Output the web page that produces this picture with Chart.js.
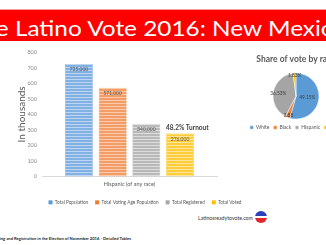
<!DOCTYPE html>
<html>
<head>
<meta charset="utf-8">
<script src="https://cdn.jsdelivr.net/npm/chart.js@4.4.0/dist/chart.umd.min.js"></script>
<style>
  html, body { margin: 0; padding: 0; background: #fff; }
  body { width: 326px; height: 245px; position: relative; overflow: hidden; font-family: Lato, "Open Sans", sans-serif; }
  #banner { position: absolute; left: 0; top: 9px; width: 326px; height: 32px; background: #ff0000; border-top: 1px solid #ff9a9a; box-sizing: border-box; overflow: hidden; }
  #ttl { position: absolute; left: 0; top: 7px; color: #fff; font-size: 21px; line-height: 21px; white-space: nowrap; transform-origin: 0 0; }
  #barBox { position: absolute; left: 0; top: 44px; width: 290px; height: 163px; }
  #pieBox { position: absolute; left: 240px; top: 52px; width: 112px; height: 88px; }
  #site { position: absolute; left: 198px; top: 215px; font-size: 5.2px; color: #333; }
  #logo { position: absolute; left: 255px; top: 211px; width: 12px; height: 12px; border-radius: 50%;
          background: linear-gradient(#2b3fbf 0 45%, #fff 45% 55%, #e3262b 55% 100%); }
  #source { position: absolute; right: 195px; top: 236px; font-size: 4.15px; font-weight: bold; color: #222; white-space: nowrap; }
</style>
</head>
<body>
<div id="banner"><span id="ttl">The <span id="tA">Latino Vote 2016: New </span><span id="tB">Mexico</span></span></div>
<div id="barBox"><canvas id="bar"></canvas></div>
<div id="pieBox"><canvas id="pie"></canvas></div>
<div id="site">Latinosreadytovote.com</div>
<div id="logo"></div>
<div id="source">Source: U.S. Census Bureau, Voting and Registration in the Election of November 2016 - Detailed Tables</div>
<script>
// bar chart data (thousands)
const barCategories = ['Hispanic (of any race)'];
const seriesNames = ['Total Population', 'Total Voting Age Population', 'Total Registered', 'Total Voted'];
const seriesValues = [725, 571, 340, 276];
const seriesColors = ['#5b9bd5', '#ed7d31', '#a5a5a5', '#ffc000'];
const barFill = ['#80b1e2', '#f29d68', '#b9b9b9', '#ffcd3c'];
const stripeColors = ['#bcd5f0', '#f9cbab', '#dddddd', '#ffe69a'];
const turnoutLabel = '48.2% Turnout';

// pie data (percent)
const pieLabels = ['White', 'Black', 'Hispanic', 'Asian'];
const pieValues = [49.15, 2.88, 36.53, 1.83];
const pieValueLabels = ['49.15%', '2.88', '36.53%', '1.83%'];
const pieLabelRadius = [0.5, 0.9, 0.78, 0.9];

// the slide title is cut off on both sides; fit "Latino ... New " between x=15 and x=268
const ttl = document.getElementById('ttl');
const aL = document.getElementById('tA').getBoundingClientRect().left;
const bL = document.getElementById('tB').getBoundingClientRect().left;
const k = 253 / (bL - aL);
ttl.style.left = (15 - aL * k) + 'px';
ttl.style.transform = 'scaleX(' + k + ')';

function stripes(base, light) {
  const cv = document.createElement('canvas');
  cv.width = 4; cv.height = 3;
  const c = cv.getContext('2d');
  c.fillStyle = base; c.fillRect(0, 0, 4, 3);
  c.fillStyle = light; c.fillRect(0, 2, 4, 1);
  return c.createPattern(cv, 'repeat');
}

const barLabels = {
  id: 'barLabels',
  afterDatasetsDraw(chart) {
    const ctx = chart.ctx;
    ctx.save();
    ctx.textAlign = 'center';
    ctx.textBaseline = 'top';
    ctx.font = '5px Lato';
    ctx.fillStyle = '#595959';
    chart.data.datasets.forEach((ds, i) => {
      const bar = chart.getDatasetMeta(i).data[0];
      ctx.fillText((ds.data[0] * 1000).toLocaleString('en-US'), bar.x, bar.y + 3);
    });
    // turnout note over the last bar
    const last = chart.getDatasetMeta(chart.data.datasets.length - 1).data[0];
    ctx.textAlign = 'left';
    ctx.textBaseline = 'bottom';
    ctx.font = 'bold 6.5px Lato';
    ctx.fillStyle = '#404040';
    ctx.fillText(turnoutLabel, last.x - last.width / 2, last.y - 2);
    ctx.restore();
  }
};

new Chart(document.getElementById('bar'), {
  type: 'bar',
  data: {
    labels: barCategories,
    datasets: seriesNames.map((name, i) => ({
      label: name,
      data: [seriesValues[i]],
      backgroundColor: stripes(barFill[i], stripeColors[i]),
      borderColor: barFill[i],
      borderWidth: 0.6,
      categoryPercentage: 0.77,
      barPercentage: 0.83
    }))
  },
  options: {
    responsive: true,
    maintainAspectRatio: false,
    animation: false,
    layout: { padding: { top: 2, right: 0, left: 0 } },
    plugins: {
      tooltip: { enabled: false },
      legend: {
        position: 'bottom',
        maxHeight: 14,
        labels: {
          boxWidth: 4, boxHeight: 4, padding: 7,
          font: { size: 4.7, family: 'Lato' }, color: '#595959',
          generateLabels(chart) {
            return chart.data.datasets.map((ds, i) => ({
              text: ds.label, fillStyle: seriesColors[i], strokeStyle: seriesColors[i],
              lineWidth: 0, datasetIndex: i, fontColor: '#595959'
            }));
          }
        }
      }
    },
    scales: {
      y: {
        min: 0, max: 800,
        ticks: { stepSize: 100, font: { size: 5.5, family: 'Lato' }, color: '#8c8c8c', padding: 5 },
        grid: { display: false, drawTicks: false },
        border: { display: false },
        title: { display: true, text: 'In thousands', font: { size: 10, family: 'Lato' }, color: '#595959', padding: { top: 16, bottom: 0 } },
        afterFit(scale) { scale.width = 42; }
      },
      // empty right-hand axis that only keeps the plot narrower than the legend row
      yPad: {
        position: 'right',
        display: true,
        ticks: { display: false },
        grid: { display: false, drawTicks: false },
        border: { display: false },
        afterFit(scale) { scale.width = 73; }
      },
      x: {
        grid: { display: false, drawTicks: false },
        border: { color: '#d9d9d9' },
        ticks: { font: { size: 5.5, family: 'Lato' }, color: '#595959', padding: 5 }
      }
    }
  },
  plugins: [barLabels]
});

const pieText = {
  id: 'pieText',
  afterDatasetsDraw(chart) {
    const ctx = chart.ctx;
    ctx.save();
    ctx.textAlign = 'center';
    ctx.textBaseline = 'middle';
    ctx.font = '4.8px Lato';
    ctx.fillStyle = '#404040';
    chart.getDatasetMeta(0).data.forEach((arc, i) => {
      const mid = (arc.startAngle + arc.endAngle) / 2;
      const r = arc.outerRadius * pieLabelRadius[i];
      ctx.fillText(pieValueLabels[i], arc.x + Math.cos(mid) * r, arc.y + Math.sin(mid) * r);
    });
    ctx.restore();
  }
};

new Chart(document.getElementById('pie'), {
  type: 'pie',
  data: {
    labels: pieLabels,
    datasets: [{ data: pieValues, backgroundColor: seriesColors, borderColor: '#fff', borderWidth: 0.5 }]
  },
  options: {
    responsive: true,
    maintainAspectRatio: false,
    animation: false,
    radius: 23,
    plugins: {
      tooltip: { enabled: false },
      title: { display: true, text: 'Share of vote by race', font: { size: 8.5, weight: 'bold', family: 'Lato' }, color: '#595959', padding: { top: 2, bottom: 7 } },
      legend: {
        position: 'bottom',
        labels: { boxWidth: 3.5, boxHeight: 3.5, padding: 4, font: { size: 5, family: 'Lato' }, color: '#595959' }
      }
    }
  },
  plugins: [pieText]
});
</script>
</body>
</html>
